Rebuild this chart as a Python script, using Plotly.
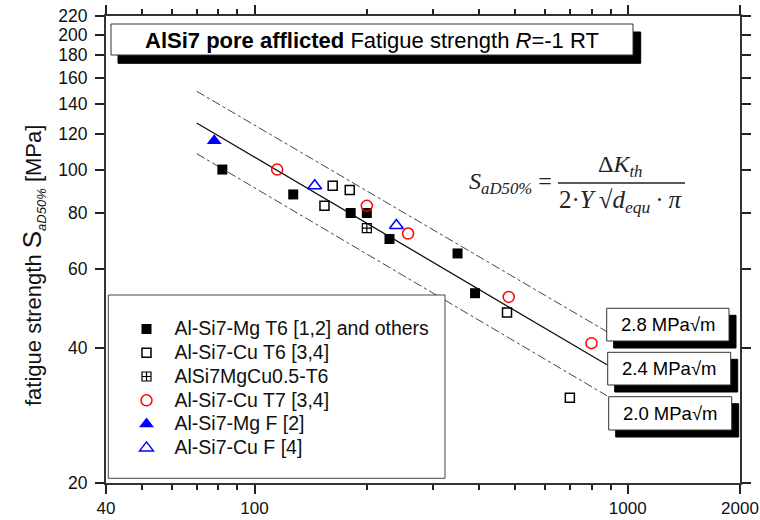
import plotly.graph_objects as go

# ---------------- data ----------------
mg_t6_x = [82, 127, 181, 200, 230, 350, 390]
mg_t6_y = [100, 88, 80, 80, 70, 65, 53]

cu_t6_x = [154, 162, 180, 475, 700]
cu_t6_y = [83, 92, 90, 48, 31]

mgcu_x = [200]
mgcu_y = [74]

cu_t7_x = [115, 200, 258, 480, 800]
cu_t7_y = [100, 83, 72, 52, 41]

mg_f_x = [78]
mg_f_y = [116]

cu_f_x = [145, 240]
cu_f_y = [92, 75]

# threshold lines (end points)
line_x = [70, 880]
line28_y = [149.5, 43.5]
line24_y = [127, 36.7]
line20_y = [108.5, 31.3]
line_labels = ["2.8 MPa\u221am", "2.4 MPa\u221am", "2.0 MPa\u221am"]

series_names = ["Al-Si7-Mg T6 [1,2] and others", "Al-Si7-Cu T6 [3,4]", "AlSi7MgCu0.5-T6",
                "Al-Si7-Cu T7 [3,4]", "Al-Si7-Mg F [2]", "Al-Si7-Cu F [4]"]

x_tickvals = [40, 100, 1000, 2000]
x_minor = [50, 60, 70, 80, 90, 200, 300, 400, 500, 600, 700, 800, 900]
y_tickvals = [20, 40, 60, 80, 100, 120, 140, 160, 180, 200, 220]

SANS = "Liberation Sans, Arial, sans-serif"
SERIF = "Liberation Serif, Times New Roman, serif"

W, H = 760, 520
# plot area in window pixels (layout only)
L, R, T, B = 106, 740, 16, 483


def px(x):
    return (x - L) / (R - L)


def py(y):
    return (B - y) / (B - T)


def nm(s):
    return "<span style='font-size:19.5px'>" + s + "</span>"


fig = go.Figure()

# lines
fig.add_trace(go.Scatter(x=line_x, y=line28_y, mode="lines", showlegend=False,
                         line=dict(color="#444", width=1, dash="dashdot"), hoverinfo="skip"))
fig.add_trace(go.Scatter(x=line_x, y=line24_y, mode="lines", showlegend=False,
                         line=dict(color="#111", width=1.3), hoverinfo="skip"))
fig.add_trace(go.Scatter(x=line_x, y=line20_y, mode="lines", showlegend=False,
                         line=dict(color="#444", width=1, dash="dashdot"), hoverinfo="skip"))

# markers
fig.add_trace(go.Scatter(x=mg_t6_x, y=mg_t6_y, mode="markers", name=nm(series_names[0]),
                         marker=dict(symbol="square", size=10, color="black")))
fig.add_trace(go.Scatter(x=cu_t6_x, y=cu_t6_y, mode="markers", name=nm(series_names[1]),
                         marker=dict(symbol="square-open", size=9, color="black", line=dict(width=1.5))))
fig.add_trace(go.Scatter(x=mgcu_x, y=mgcu_y, mode="markers", name=nm(series_names[2]),
                         marker=dict(symbol="square-cross-open", size=9, color="black", line=dict(width=1.2))))
fig.add_trace(go.Scatter(x=cu_t7_x, y=cu_t7_y, mode="markers", name=nm(series_names[3]),
                         marker=dict(symbol="circle-open", size=11, color="red", line=dict(width=1.5))))
fig.add_trace(go.Scatter(x=mg_f_x, y=mg_f_y, mode="markers", name=nm(series_names[4]),
                         marker=dict(symbol="triangle-up", size=13, color="blue")))
fig.add_trace(go.Scatter(x=cu_f_x, y=cu_f_y, mode="markers", name=nm(series_names[5]),
                         marker=dict(symbol="triangle-up-open", size=12, color="blue", line=dict(width=1.5))))

shapes = []
annotations = []


def rect(x0, y0, x1, y1, fill, line_color):
    shapes.append(dict(type="rect", xref="paper", yref="paper", x0=px(x0), x1=px(x1), y0=py(y1), y1=py(y0),
                       fillcolor=fill, line=dict(color=line_color, width=1), layer="above"))


def hline(x0, x1, y, w=1.3):
    shapes.append(dict(type="line", xref="paper", yref="paper", x0=px(x0), x1=px(x1), y0=py(y), y1=py(y),
                       line=dict(color="#222", width=w)))


# legend box
rect(108.3, 295, 445, 478.3, "white", "#444")

# title box (shadow + box)
rect(118, 32, 640.7, 63.3, "black", "black")
rect(111, 24, 633, 55, "white", "#333")
annotations.append(dict(xref="paper", yref="paper", x=px(372), y=py(40), xanchor="center", yanchor="middle",
                        text="<b>AlSi7 pore afflicted</b> Fatigue strength <i>R</i>=-1 RT", showarrow=False,
                        font=dict(family=SANS, size=22, color="black")))

# labels of the lines
label_boxes = [(606.7, 308.3, 729, 341), (607.7, 352.3, 730.7, 385), (608.7, 396.7, 731.7, 430)]
for (x0, y0, x1, y1), t in zip(label_boxes, line_labels):
    rect(x0 + 7, y0 + 7, x1 + 7, y1 + 7, "black", "black")
    rect(x0, y0, x1, y1, "white", "#333")
    annotations.append(dict(xref="paper", yref="paper", x=px((x0 + x1) / 2), y=py((y0 + y1) / 2),
                            xanchor="center", yanchor="middle", text=t, showarrow=False,
                            font=dict(family=SANS, size=18.5, color="black")))

# formula: fraction line
hline(558, 685, 183)
annotations.append(dict(xref="paper", yref="paper", x=px(554), y=py(183), xanchor="right", yanchor="middle",
                        text="<i>S</i><sub><i>aD50%</i></sub> =", showarrow=False,
                        font=dict(family=SERIF, size=24, color="#222")))
annotations.append(dict(xref="paper", yref="paper", x=px(620), y=py(183), xanchor="center", yanchor="bottom",
                        text="\u0394<i>K</i><sub><i>th</i></sub>", showarrow=False,
                        font=dict(family=SERIF, size=24, color="#222")))
annotations.append(dict(xref="paper", yref="paper", x=px(621), y=py(184), xanchor="center", yanchor="top",
                        text=("2\u00b7<i>Y</i>\u2009\u221a<i>d</i><sub><i>equ</i></sub>"
                              "\u2009\u00b7\u2009<i>\u03c0</i>"),
                        showarrow=False, font=dict(family=SERIF, size=25, color="#222")))

# y-axis title
annotations.append(dict(xref="paper", yref="paper", x=px(33), y=py(266), xanchor="center", yanchor="middle",
                        textangle=-90, showarrow=False,
                        text=("fatigue strength <span style='font-size:26px'>S</span>"
                              "<sub><i><span style='font-size:13px'>aD50%</span></i></sub> [MPa]"),
                        font=dict(family=SANS, size=22, color="#111")))

fig.update_layout(
    width=W, height=H,
    margin=dict(l=L, r=W - R, t=T, b=H - B, autoexpand=False),
    plot_bgcolor="white", paper_bgcolor="white",
    font=dict(family=SANS, size=17, color="#111"),
    shapes=shapes, annotations=annotations,
    showlegend=True,
    legend=dict(x=px(118.5), y=py(312), xanchor="left", yanchor="top", bgcolor="rgba(0,0,0,0)",
                borderwidth=0, font=dict(family=SANS, size=16, color="#111"), itemwidth=46,
                tracegroupgap=0, itemclick=False),
)

fig.update_xaxes(type="log", range=[1.60206, 3.30103], tickvals=x_tickvals, ticktext=[str(v) for v in x_tickvals],
                 ticks="outside", ticklen=9, tickwidth=1.5, tickcolor="#222", automargin=False,
                 ticklabeloverflow="allow", tickfont=dict(size=17),
                 minor=dict(tickvals=x_minor, ticks="outside", ticklen=5, tickwidth=1.5, tickcolor="#222"),
                 showline=True, linecolor="#333", linewidth=2, mirror="ticks", showgrid=False, zeroline=False)
fig.update_yaxes(type="log", range=[1.30103, 2.342423], tickvals=y_tickvals, ticktext=[str(v) for v in y_tickvals],
                 ticks="outside", ticklen=9, tickwidth=1.5, tickcolor="#222", automargin=False,
                 ticklabelstandoff=4, ticklabeloverflow="allow", tickfont=dict(size=17.5),
                 showline=True, linecolor="#333", linewidth=2, mirror="ticks", showgrid=False, zeroline=False)

fig.write_html("out.html", config=dict(displayModeBar=False),
               post_script="document.body.style.margin='0';document.body.style.overflow='hidden';")
